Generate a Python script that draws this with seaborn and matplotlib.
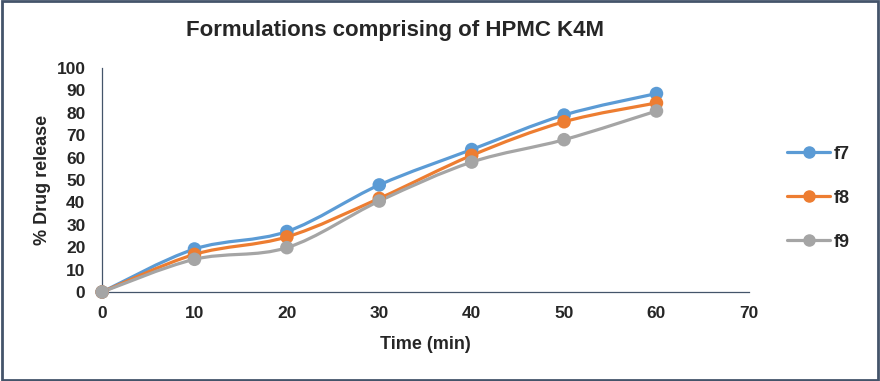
import numpy as np
import pandas as pd
import seaborn as sns
import matplotlib.pyplot as plt
from matplotlib.path import Path
from matplotlib.patches import PathPatch, Rectangle
from matplotlib.lines import Line2D

# data
time_min = [0, 10, 20, 30, 40, 50, 60]
f7 = [0, 19.2, 27.0, 47.8, 63.6, 79.0, 88.6]
f8 = [0, 16.8, 24.6, 41.8, 61.0, 76.0, 84.4]
f9 = [0, 14.6, 19.8, 40.6, 58.0, 68.0, 80.8]
series_names = ['f7', 'f8', 'f9']
colors = ['#5B9BD5', '#ED7D31', '#A5A5A5']

sns.set_style('white')
plt.rcParams['font.family'] = ['Liberation Sans', 'DejaVu Sans']
plt.rcParams['font.weight'] = 'bold'

df = pd.DataFrame({'time': time_min * 3,
                   'release': f7 + f8 + f9,
                   'formulation': np.repeat(series_names, len(time_min))})

fig = plt.figure(figsize=(8.8, 3.81), dpi=100)
ax = fig.add_axes([0.116, 0.2336, 0.735, 0.5879])


# smooth line like excel (catmull-rom bezier through the points)
def smooth_path(x, y):
    pts = np.column_stack([x, y]).astype(float)
    n = len(pts)
    verts = [pts[0]]
    codes = [Path.MOVETO]
    for i in range(n - 1):
        p0 = pts[i - 1] if i > 0 else pts[i]
        p1 = pts[i]
        p2 = pts[i + 1]
        p3 = pts[i + 2] if i + 2 < n else pts[i + 1]
        c1 = p1 + (p2 - p0) / 6
        c2 = p2 - (p3 - p1) / 6
        verts += [c1, c2, p2]
        codes += [Path.CURVE4] * 3
    return Path(verts, codes)


for name, col in zip(series_names, colors):
    sub = df[df.formulation == name]
    ax.add_patch(PathPatch(smooth_path(sub.time, sub.release), facecolor='none',
                           edgecolor=col, lw=2.3, zorder=2))

sns.scatterplot(data=df, x='time', y='release', hue='formulation', palette=colors,
                s=95, edgecolor='none', legend=False, ax=ax, zorder=3, clip_on=False)

ax.set_xlim(0, 70)
ax.set_ylim(0, 100)
ax.set_xticks(range(0, 71, 10))
ax.set_yticks(range(0, 101, 10))
ax.tick_params(labelsize=12.5, length=0)
ax.tick_params(axis='y', pad=12)
ax.tick_params(axis='x', pad=10)
for lab in ax.get_xticklabels() + ax.get_yticklabels():
    lab.set_fontweight('bold')
for s in ['top', 'right']:
    ax.spines[s].set_visible(False)
for s in ['left', 'bottom']:
    ax.spines[s].set_color('#44546A')
    ax.spines[s].set_linewidth(0.9)

ax.set_xlabel('Time (min)', fontsize=13, fontweight='bold', labelpad=11)
ax.set_ylabel('% Drug release', fontsize=13, fontweight='bold', labelpad=4)
fig.text(0.449, 0.92, 'Formulations comprising of HPMC K4M', ha='center', va='center',
         fontsize=16, fontweight='bold')

handles = [Line2D([], [], color=c, lw=2.3, marker='o', markersize=8) for c in colors]
fig.legend(handles, series_names, loc='center left', bbox_to_anchor=(0.876, 0.48),
           frameon=False, prop={'size': 13, 'weight': 'bold'}, labelspacing=1.5,
           handlelength=2.4, handletextpad=0.2)

# outer border
fig.patches.append(Rectangle((0.002, 0.003), 0.996, 0.994, transform=fig.transFigure,
                             fill=False, edgecolor='#44546A', lw=2))

fig.savefig('out.png', dpi=100)
